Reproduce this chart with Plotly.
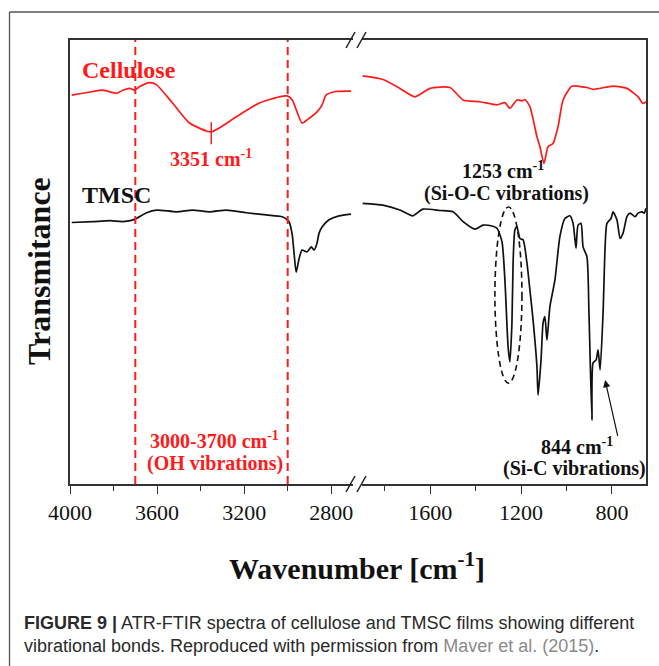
import plotly.graph_objects as go

# ---------------- data ----------------
# Cellulose, high-wavenumber panel
cell_hi_wn = [3992, 3895, 3849, 3785, 3757, 3725, 3703, 3680, 3634, 3602, 3529, 3451, 3373, 3351,
              3314, 3236, 3130, 3039, 3002, 2979, 2934, 2911, 2865, 2842, 2824, 2778, 2709]
cell_hi_t = [87.6, 88.4, 88.7, 88.0, 88.7, 89.1, 88.7, 89.5, 90.4, 89.9, 85.8, 81.3, 79.5, 79.3,
             80.2, 82.7, 85.8, 87.2, 87.4, 86.5, 81.3, 82.0, 83.8, 85.4, 87.6, 88.4, 88.5]
# Cellulose, fingerprint panel
cell_lo_wn = [1897, 1808, 1733, 1667, 1601, 1513, 1455, 1381, 1306, 1271, 1249, 1218, 1196, 1183,
              1161, 1130, 1117, 1099, 1081, 1059, 1037, 1015, 976, 910, 883, 795, 734, 685, 663, 650]
cell_lo_t = [91.9, 91.1, 89.1, 87.2, 89.1, 89.3, 86.5, 86.1, 85.4, 85.9, 84.6, 86.5, 86.3, 86.6,
             85.0, 78.2, 76.0, 72.2, 76.0, 76.7, 80.5, 86.5, 89.6, 89.3, 88.9, 89.6, 89.1, 87.2, 85.7, 86.1]
# TMSC, high-wavenumber panel
tmsc_hi_wn = [3992, 3895, 3817, 3757, 3703, 3648, 3602, 3510, 3437, 3359, 3281, 3190, 3098, 3025,
              3002, 2993, 2979, 2970, 2961, 2947, 2934, 2911, 2892, 2879, 2865, 2856, 2842, 2810, 2764, 2709]
tmsc_hi_t = [58.9, 59.1, 59.3, 59.1, 59.6, 61.1, 61.7, 61.3, 61.7, 61.3, 61.7, 61.1, 60.6, 60.2,
             59.5, 59.0, 56.1, 51.6, 47.7, 50.9, 52.7, 52.3, 53.4, 52.7, 54.3, 56.5, 57.9, 59.5, 60.4, 60.8]
# TMSC, fingerprint panel
tmsc_lo_wn = [1897, 1808, 1733, 1676, 1632, 1557, 1499, 1455, 1403, 1367, 1328, 1306, 1284, 1271,
              1257, 1249, 1240, 1235, 1227, 1218, 1205, 1191, 1174, 1161, 1147, 1130, 1125, 1112,
              1103, 1095, 1086, 1073, 1051, 1029, 1007, 985, 971, 958, 949, 936, 927, 910, 901,
              888, 883, 870, 861, 852, 839, 830, 822, 804, 795, 778, 764, 751, 734, 720, 698,
              685, 667, 658, 650]
tmsc_lo_t = [63.2, 62.8, 61.7, 60.4, 61.9, 61.6, 61.3, 59.1, 57.4, 58.3, 58.1, 57.6, 54.6, 45.9,
             30.9, 27.5, 36.3, 49.8, 57.2, 58.0, 55.3, 55.0, 49.8, 43.7, 36.9, 26.4, 20.0, 27.9,
             36.3, 37.7, 32.4, 39.9, 45.9, 55.7, 59.8, 60.4, 58.7, 53.1, 58.3, 58.7, 53.4, 51.2, 38.5,
             14.4, 27.3, 27.9, 30.2, 25.7, 38.5, 53.4, 58.7, 59.8, 61.3, 59.5, 55.3, 56.5, 60.2, 61.0, 60.2,
             61.0, 61.3, 61.0, 62.1]

hi_ticks = [4000, 3600, 3200, 2800]
hi_minor = [3800, 3400, 3000]
lo_ticks = [1600, 1200, 800]
lo_minor = [1800, 1400, 1000]
oh_band = [3700, 3000]
peak_oh = 3351

RED = "#ff1a1a"
BLK = "#111111"
SERIF = "Liberation Serif, Times New Roman, serif"
SANS = "Liberation Sans, Arial, sans-serif"

fig = go.Figure()
for xs, ys, col, xa, ya in [(cell_hi_wn, cell_hi_t, RED, "x", "y"), (tmsc_hi_wn, tmsc_hi_t, BLK, "x", "y"),
                            (cell_lo_wn, cell_lo_t, RED, "x2", "y2"), (tmsc_lo_wn, tmsc_lo_t, BLK, "x2", "y2")]:
    fig.add_trace(go.Scatter(x=xs, y=ys, mode="lines",
                             line=dict(color=col, width=1.7, shape="spline", smoothing=0.6),
                             xaxis=xa, yaxis=ya, showlegend=False, hoverinfo="skip"))

W, H = 659, 666
L, R, T, B = 70, 13, 40, 182
pw, ph = W - L - R, H - T - B


def px(xp):
    return (xp - L) / pw


def py(yp):
    return (H - B - yp) / ph


axcommon = dict(showline=True, linecolor="#333", linewidth=1.6, mirror=True, ticks="outside",
                ticklen=8, tickwidth=1.4, tickcolor="#333", showgrid=False, zeroline=False,
                tickfont=dict(family=SERIF, size=22, color="#111"))

fig.update_layout(
    width=W, height=H, margin=dict(l=L, r=R, t=T, b=B),
    paper_bgcolor="white", plot_bgcolor="white",
    xaxis=dict(domain=[0, px(353)], range=[4000, 2700], tickvals=hi_ticks,
               minor=dict(tickvals=hi_minor, ticks="outside", ticklen=5, tickwidth=1.4, tickcolor="#333"),
               **axcommon),
    xaxis2=dict(domain=[px(362), 1], range=[1900, 650], tickvals=lo_ticks, anchor="y2",
                minor=dict(tickvals=lo_minor, ticks="outside", ticklen=5, tickwidth=1.4, tickcolor="#333"),
                **axcommon),
    yaxis=dict(range=[0, 100], showline=True, linecolor="#333", linewidth=1.6, showticklabels=False,
               ticks="", showgrid=False, zeroline=False, anchor="x"),
    yaxis2=dict(range=[0, 100], matches="y", anchor="x2", side="right", showline=True, linecolor="#333",
                linewidth=1.6, showticklabels=False, ticks="", showgrid=False, zeroline=False),
)

shapes = []
# OH band dashed lines
for wn in oh_band:
    shapes.append(dict(type="line", xref="x", yref="paper", x0=wn, x1=wn, y0=0, y1=1,
                       line=dict(color=RED, width=2, dash="8px,5px")))
# tick mark at 3351 minimum
shapes.append(dict(type="line", xref="x", yref="y", x0=peak_oh, x1=peak_oh, y0=81.5, y1=76.5,
                   line=dict(color=RED, width=1.5)))
# dashed ellipse around 1253 band
shapes.append(dict(type="circle", xref="x2", yref="y2", x0=1315, x1=1196, y0=22.7, y1=62.4,
                   line=dict(color=BLK, width=1.6, dash="6px,4px")))
# axis break marks
for yb in (40, 484):
    for x0 in (346, 357):
        shapes.append(dict(type="line", xref="paper", yref="paper", x0=px(x0), x1=px(x0 + 9),
                           y0=py(yb + 8), y1=py(yb - 8), line=dict(color="#222", width=1.5)))
# outer figure frame (top + left)
shapes.append(dict(type="line", xref="paper", yref="paper", x0=px(9.5), x1=px(660), y0=py(12), y1=py(12),
                   line=dict(color="#555", width=1.3)))
shapes.append(dict(type="line", xref="paper", yref="paper", x0=px(9.5), x1=px(9.5), y0=py(12), y1=py(667),
                   line=dict(color="#555", width=1.3)))
fig.update_layout(shapes=shapes)


def txt(text, xref, yref, x, y, size, color, family=SERIF, **kw):
    d = dict(text=text, xref=xref, yref=yref, x=x, y=y, showarrow=False, yanchor="middle",
             xanchor="center", font=dict(family=family, size=size, color=color))
    d.update(kw)
    return d


ann = [
    txt("<b>Cellulose</b>", "x", "y", 3955, 93.2, 24, RED, xanchor="left"),
    txt("<b>TMSC</b>", "x", "y", 3955, 65.1, 24, BLK, xanchor="left"),
    txt("<b>3351 cm<sup>-1</sup></b>", "x", "y", 3352, 73.4, 20, RED),
    txt("<b>3000-3700 cm<sup>-1</sup></b>", "x", "y", 3334, 9.8, 20, RED),
    txt("<b>(OH vibrations)</b>", "x", "y", 3334, 4.6, 20, RED),
    txt("<b>1253 cm<sup>-1</sup></b>", "x2", "y2", 1280, 70.8, 20, BLK),
    txt("<b>(Si-O-C vibrations)</b>", "x2", "y2", 1262, 65.4, 20, BLK),
    txt("<b>844 cm<sup>-1</sup></b>", "x2", "y2", 955, 8.6, 20, BLK),
    txt("<b>(Si-C vibrations)</b>", "x2", "y2", 964, 3.5, 20, BLK),
    dict(text="", xref="x2", yref="y2", x=830, y=23.4, axref="x2", ayref="y2", ax=773, ay=10.5,
         showarrow=True, arrowhead=2, arrowsize=1.2, arrowwidth=1.2, arrowcolor=BLK),
    txt("<b>Wavenumber [cm<sup>-1</sup>]</b>", "paper", "paper", px(357), py(566), 30, "#111"),
    txt("<b>Transmitance</b>", "paper", "paper", px(39), py(271), 32, "#111", textangle=-90),
    txt("<b>FIGURE 9 |</b> ATR-FTIR spectra of cellulose and TMSC films showing different",
        "paper", "paper", px(22), py(623), 18, "#2a2a2a", family=SANS, xanchor="left"),
    txt("vibrational bonds. Reproduced with permission from "
        "<span style='color:#8a8a8a'>Maver et al. (2015)</span>.",
        "paper", "paper", px(22), py(646), 18, "#2a2a2a", family=SANS, xanchor="left"),
]
fig.update_layout(annotations=ann)

fig.write_html("out.html")
